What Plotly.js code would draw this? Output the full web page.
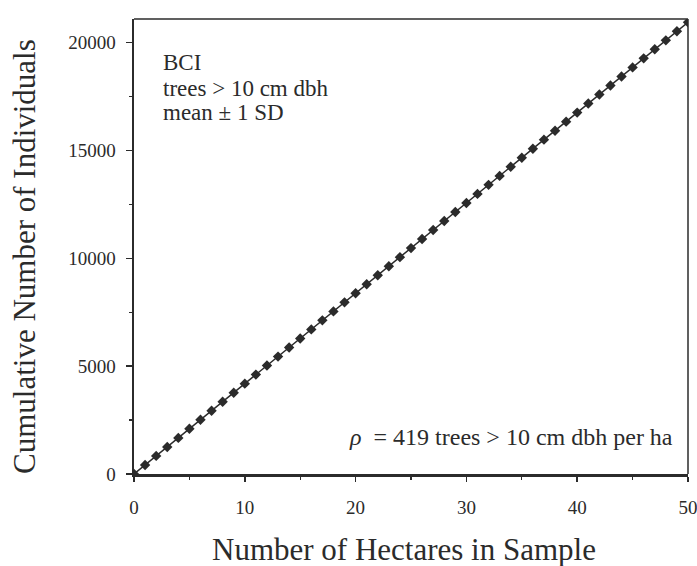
<!DOCTYPE html>
<html>
<head>
<meta charset="utf-8">
<script src="https://cdn.plot.ly/plotly-3.0.1.min.js"></script>
<style>html,body{margin:0;padding:0;background:#fff;}#chart{width:697px;height:566px;}</style>
</head>
<body>
<div id="chart"></div>
<script>
var hectares = [0,1,2,3,4,5,6,7,8,9,10,11,12,13,14,15,16,17,18,19,20,21,22,23,24,25,26,27,28,29,30,31,32,33,34,35,36,37,38,39,40,41,42,43,44,45,46,47,48,49,50];
var individuals = [0,420,840,1255,1675,2095,2515,2935,3350,3770,4190,4610,5030,5445,5865,6285,6705,7125,7540,7960,8380,8800,9220,9635,10055,10475,10895,11315,11730,12150,12570,12990,13410,13825,14245,14665,15085,15505,15920,16340,16760,17180,17600,18015,18435,18855,19275,19695,20110,20530,20950];
var xTickVals = [0,10,20,30,40,50];
var xTickText = ['0','10','20','30','40','50'];
var yTickVals = [0,5000,10000,15000,20000];
var yTickText = ['0','5000','10000','15000','20000'];
var xTitle = 'Number of Hectares in Sample';
var yTitle = 'Cumulative Number of Individuals';
var noteLines = ['BCI','trees &gt; 10 cm dbh','mean ± 1 SD'];
var densityNote = '<i>ρ</i>  = 419 trees &gt; 10 cm dbh per ha';

var ink = '#2b2b2b';
var serif = 'Liberation Serif, Times New Roman, serif';
var L = 134, R = 688, T = 19, B = 474;
var W = R - L, H = B - T;
function px(x){ return (x - L) / W; }
function py(y){ return 1 - (y - T) / H; }

var trace = {
  x: hectares, y: individuals, type: 'scatter', mode: 'lines+markers',
  line: {color: ink, width: 1.5},
  marker: {symbol: 'diamond', size: 8, color: ink},
  hoverinfo: 'skip'
};

var annotations = [];
noteLines.forEach(function(t, i){
  annotations.push({xref:'paper', yref:'paper', x:px(161), y:py(63+25*i), xanchor:'left', yanchor:'middle', text:t, showarrow:false, font:{family:serif, size:23, color:ink}});
});
annotations.push({xref:'paper', yref:'paper', x:px(675), y:py(437), xanchor:'right', yanchor:'middle', text:densityNote, showarrow:false, font:{family:serif, size:24, color:ink}});
annotations.push({xref:'paper', yref:'paper', x:px(404), y:py(549), xanchor:'center', yanchor:'middle', text:xTitle, showarrow:false, font:{family:serif, size:31, color:ink}});
annotations.push({xref:'paper', yref:'paper', x:px(24), y:py(257), xanchor:'center', yanchor:'middle', textangle:-90, text:yTitle, showarrow:false, font:{family:serif, size:31, color:ink}});

var layout = {
  width: 697, height: 566,
  margin: {l:L, r:697-R, t:T, b:566-B, pad:0},
  paper_bgcolor:'#fff', plot_bgcolor:'#fff',
  showlegend:false,
  xaxis: {range:[0,50], tickvals:xTickVals, ticktext:xTickText, ticks:'outside', ticklen:5, tickwidth:1.5, tickcolor:ink,
          showline:true, linewidth:2.5, linecolor:ink, showgrid:false, zeroline:false,
          tickfont:{family:serif, size:19, color:ink}, ticklabelstandoff:10, ticklabeloverflow:'allow',
          minor:{dtick:5, tick0:0, ticks:'outside', ticklen:3, tickwidth:1.2, tickcolor:ink, showgrid:false}},
  yaxis: {range:[0,21100], tickvals:yTickVals, ticktext:yTickText, ticks:'outside', ticklen:6, tickwidth:1.5, tickcolor:ink,
          showline:true, linewidth:2.5, linecolor:ink, showgrid:false, zeroline:false,
          tickfont:{family:serif, size:19, color:ink}, ticklabelstandoff:6,
          minor:{dtick:2500, tick0:0, ticks:'outside', ticklen:3, tickwidth:1.2, tickcolor:ink, showgrid:false}},
  shapes: [
    {type:'line', xref:'paper', yref:'paper', x0:0, x1:1, y0:1, y1:1, line:{color:ink, width:1.5}},
    {type:'line', xref:'paper', yref:'paper', x0:1, x1:1, y0:0, y1:1, line:{color:ink, width:1.5}}
  ],
  annotations: annotations
};

Plotly.newPlot('chart', [trace], layout, {displayModeBar:false, staticPlot:true});
</script>
</body>
</html>
